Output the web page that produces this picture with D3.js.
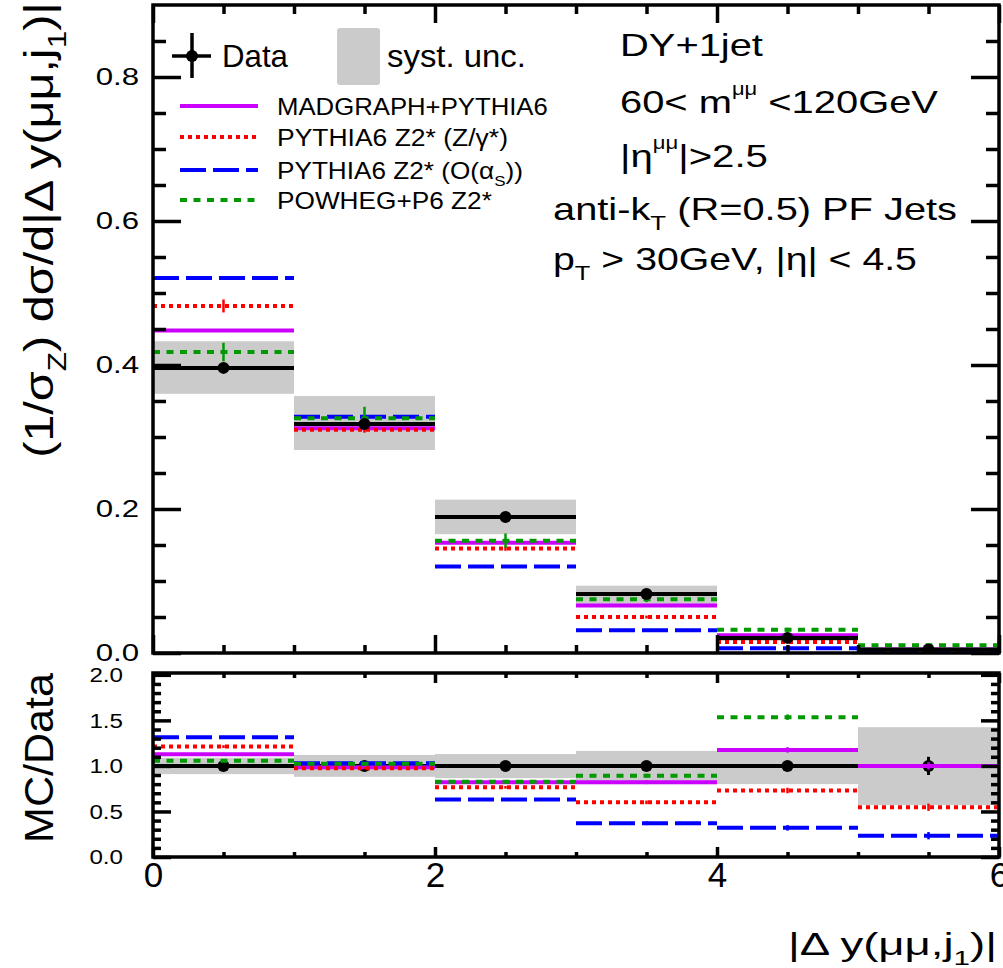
<!DOCTYPE html>
<html><head><meta charset="utf-8">
<script src="https://cdn.jsdelivr.net/npm/d3@7"></script>
<style>body{margin:0;background:#fff} svg{display:block}</style>
</head><body><svg id="c" width="1003" height="968"></svg>
<script>
// ---------------- data ----------------
const binEdges = [0, 1, 2, 3, 4, 5, 6];
const dataVals = [0.396, 0.318, 0.189, 0.082, 0.021, 0.0050];
const dataStat = [0.003, 0.003, 0.002, 0.0015, 0.001, 0.0005];
const systLo   = [0.360, 0.282, 0.165, 0.066, 0.0168, 0.0029];
const systHi   = [0.433, 0.357, 0.213, 0.0935, 0.0245, 0.0071];
const madgraph = [0.448, 0.312, 0.153, 0.066, 0.0247, 0.0050];
const pythiaZ  = [0.482, 0.310, 0.145, 0.050, 0.0153, 0.0027];
const pythiaAs = [0.521, 0.328, 0.120, 0.0315, 0.0067, 0.0012];
const powheg   = [0.418, 0.326, 0.156, 0.0746, 0.0322, 0.0108];
const madgraphErr = [0.002, 0.002, 0.001, 0.001, 0.0005, 0.0003];
const pythiaZErr  = [0.009, 0.004, 0.003, 0.002, 0.001, 0.0005];
const pythiaAsErr = [0.002, 0.002, 0.001, 0.001, 0.0005, 0.0003];
const powhegErr   = [0.013, 0.016, 0.010, 0.004, 0.003, 0.001];

const ratioData     = [1, 1, 1, 1, 1, 1];
const ratioDataErr  = [0.01, 0.01, 0.02, 0.03, 0.05, 0.10];
const ratioSystLo   = [0.91, 0.88, 0.865, 0.80, 0.80, 0.57];
const ratioSystHi   = [1.09, 1.12, 1.13, 1.165, 1.165, 1.425];
const ratioMadgraph = [1.129, 0.985, 0.82, 0.82, 1.176, 1.0];
const ratioPythiaZ  = [1.212, 0.975, 0.765, 0.60, 0.73, 0.546];
const ratioPythiaAs = [1.315, 1.03, 0.63, 0.37, 0.32, 0.234];
const ratioPowheg   = [1.058, 1.025, 0.825, 0.893, 1.535, 2.2];
const ratioMCErr    = [0.03, 0.02, 0.03, 0.04, 0.06, 0.08];

const mainTickLabels  = [0, 0.2, 0.4, 0.6, 0.8];
const ratioTickLabels = [0, 0.5, 1.0, 1.5, 2.0];
const xTickLabels     = [0, 2, 4, 6];

const legendNames = ["MADGRAPH+PYTHIA6", "PYTHIA6 Z2* (Z/γ*)", "PYTHIA6 Z2* (O(α_S))", "POWHEG+P6 Z2*"];

// ---------------- styles ----------------
const FONT = '"Liberation Sans", Arial, Helvetica, sans-serif';
const GREY = "#cbcbcb";
const series = [
  {name: legendNames[0], vals: madgraph, err: madgraphErr, r: ratioMadgraph, color: "#cc00ff", dash: null},
  {name: legendNames[1], vals: pythiaZ,  err: pythiaZErr,  r: ratioPythiaZ,  color: "#ff0000", dash: "4,4"},
  {name: legendNames[2], vals: pythiaAs, err: pythiaAsErr, r: ratioPythiaAs, color: "#0000ff", dash: "26,7"},
  {name: legendNames[3], vals: powheg,   err: powhegErr,   r: ratioPowheg,   color: "#009900", dash: "7,6.5"}
];

const svg = d3.select("#c");
const x  = d3.scaleLinear().domain([0, 6]).range([153, 999]);
const yM = d3.scaleLinear().domain([0, 0.9]).range([653, 5]);
const yR = d3.scaleLinear().domain([0, 2.02]).range([857, 673]);

const defs = svg.append("defs");
defs.append("clipPath").attr("id", "clipM").append("rect")
  .attr("x", x(0)).attr("y", yM(0.9)).attr("width", x(6) - x(0)).attr("height", yM(0) - yM(0.9));
defs.append("clipPath").attr("id", "clipR").append("rect")
  .attr("x", x(0)).attr("y", yR(2.02)).attr("width", x(6) - x(0)).attr("height", yR(0) - yR(2.02));

const bins = d3.range(6).map(i => ({i, x0: x(binEdges[i]), x1: x(binEdges[i + 1]), xc: x((binEdges[i] + binEdges[i + 1]) / 2)}));

function drawPanel(g, y, band, lo, hi, dvals, derr, valKey, errKey, dataOnTop) {
  // syst band
  g.selectAll(".band" + band).data(bins).enter().append("rect")
    .attr("x", b => b.x0).attr("width", b => b.x1 - b.x0)
    .attr("y", b => y(hi[b.i])).attr("height", b => y(lo[b.i]) - y(hi[b.i]))
    .attr("fill", GREY);
  const drawData = () => {
    g.selectAll(".dl" + band).data(bins).enter().append("line")
      .attr("x1", b => b.x0).attr("x2", b => b.x1)
      .attr("y1", b => y(dvals[b.i])).attr("y2", b => y(dvals[b.i]))
      .attr("stroke", "#000").attr("stroke-width", 4);
    g.selectAll(".de" + band).data(bins).enter().append("line")
      .attr("x1", b => b.xc).attr("x2", b => b.xc)
      .attr("y1", b => y(dvals[b.i] - derr[b.i])).attr("y2", b => y(dvals[b.i] + derr[b.i]))
      .attr("stroke", "#000").attr("stroke-width", 3);
    g.selectAll(".dm" + band).data(bins).enter().append("circle")
      .attr("cx", b => b.xc).attr("cy", b => y(dvals[b.i])).attr("r", 6).attr("fill", "#000");
  };
  if (!dataOnTop) drawData();
  series.forEach(s => {
    const v = s[valKey];
    g.selectAll(null).data(bins).enter().append("line")
      .attr("x1", b => b.x0).attr("x2", b => b.x1)
      .attr("y1", b => y(v[b.i])).attr("y2", b => y(v[b.i]))
      .attr("stroke", s.color).attr("stroke-width", 4)
      .attr("stroke-dasharray", s.dash);
    const e = errKey === "err" ? s.err : ratioMCErr.map((r, k) => r * 0.5);
    g.selectAll(null).data(bins).enter().append("line")
      .attr("x1", b => b.xc).attr("x2", b => b.xc)
      .attr("y1", b => y(v[b.i] - e[b.i])).attr("y2", b => y(v[b.i] + e[b.i]))
      .attr("stroke", s.color).attr("stroke-width", 2.5);
  });
  if (dataOnTop) drawData();
}

const gM = svg.append("g").attr("clip-path", "url(#clipM)");
drawPanel(gM, yM, "M", systLo, systHi, dataVals, dataStat, "vals", "err", true);
const gR = svg.append("g").attr("clip-path", "url(#clipR)");
drawPanel(gR, yR, "R", ratioSystLo, ratioSystHi, ratioData, ratioDataErr, "r", "rerr", false);

// ---------------- axes / ticks ----------------
function axisTicks(axisGen, tx, ty, values, size, withLabels) {
  const a = axisGen.tickValues(values).tickSize(size).tickPadding(withLabels ? withLabels.pad : 3);
  if (withLabels) a.tickFormat(withLabels.fmt); else a.tickFormat("");
  const g = svg.append("g").attr("transform", `translate(${tx},${ty})`).call(a);
  g.select(".domain").remove();
  g.selectAll("line").attr("stroke", "#000").attr("stroke-width", 3.5);
  g.attr("font-family", FONT);
  return g;
}
const near = (v, step) => Math.abs(v / step - Math.round(v / step)) < 1e-6;
const mainMinor = d3.range(1, 18).map(k => k * 0.05).filter(v => !near(v, 0.2));
const ratioMinor = d3.range(1, 20).map(k => k * 0.1).filter(v => !near(v, 0.5));
const xMinor = d3.range(1, 12).map(k => k * 0.5).filter(v => !near(v, 2));

// main panel
const gMl = axisTicks(d3.axisLeft(yM), x(0), 0, mainTickLabels, -28, {pad: 14, fmt: d3.format(".1f")});
gMl.selectAll("text").attr("font-size", 24).attr("fill", "#000")
  .attr("x", 0).attr("transform", "translate(-14,0) scale(1.3,1)");
axisTicks(d3.axisLeft(yM), x(0), 0, mainMinor, -13);
axisTicks(d3.axisRight(yM), x(6), 0, mainTickLabels, -28);
axisTicks(d3.axisRight(yM), x(6), 0, mainMinor, -13);
axisTicks(d3.axisTop(x), 0, yM(0.9), xTickLabels, -18);
axisTicks(d3.axisTop(x), 0, yM(0.9), xMinor, -9);
axisTicks(d3.axisBottom(x), 0, yM(0), xTickLabels, -18);
axisTicks(d3.axisBottom(x), 0, yM(0), xMinor, -8);

// ratio panel
const gRl = axisTicks(d3.axisLeft(yR), x(0), 0, ratioTickLabels, -18, {pad: 30, fmt: d3.format(".1f")});
gRl.selectAll("text").attr("font-size", 21).attr("fill", "#000")
  .attr("x", 0).attr("transform", "translate(-30,0) scale(1.15,1)");
axisTicks(d3.axisLeft(yR), x(0), 0, ratioMinor, -8);
axisTicks(d3.axisRight(yR), x(6), 0, ratioTickLabels, -18);
axisTicks(d3.axisRight(yR), x(6), 0, ratioMinor, -8);
axisTicks(d3.axisTop(x), 0, yR(2.02), xTickLabels, -10);
axisTicks(d3.axisTop(x), 0, yR(2.02), xMinor, -5);
const gRb = axisTicks(d3.axisBottom(x), 0, yR(0), xTickLabels, -10, {pad: 5, fmt: d3.format("d")});
gRb.selectAll("text").attr("font-size", 35).attr("fill", "#000");
axisTicks(d3.axisBottom(x), 0, yR(0), xMinor, -5);

// frames
svg.append("rect").attr("x", x(0)).attr("y", yM(0.9)).attr("width", x(6) - x(0)).attr("height", yM(0) - yM(0.9))
  .attr("fill", "none").attr("stroke", "#000").attr("stroke-width", 3.5);
svg.append("rect").attr("x", x(0)).attr("y", yR(2.02)).attr("width", x(6) - x(0)).attr("height", yR(0) - yR(2.02))
  .attr("fill", "none").attr("stroke", "#000").attr("stroke-width", 3.5);

// ---------------- text helper ----------------
function richText(px, py, parts, fs, opts = {}) {
  const g = svg.append("g").attr("transform", `translate(${px},${py})` + (opts.rotate ? ` rotate(${opts.rotate})` : ""));
  const t = g.append("text").attr("font-family", FONT).attr("font-size", fs).attr("fill", "#000")
    .attr("text-anchor", opts.anchor || "start");
  let shift = 0;
  parts.forEach(p => {
    const [str, kind] = Array.isArray(p) ? p : [p, "n"];
    const target = kind === "sub" ? fs * 0.32 : kind === "sup" ? -fs * 0.55 : 0;
    const ts = t.append("tspan").text(str).attr("dy", target - shift);
    if (kind === "sub") ts.attr("font-size", fs * 0.65);
    if (kind === "sup") ts.attr("font-size", fs * 0.55);
    shift = target;
  });
  if (opts.width) {
    const w = t.node().getComputedTextLength();
    if (w > 0) t.attr("transform", `scale(${opts.width / w},1)`);
  } else if (opts.sx) {
    t.attr("transform", `scale(${opts.sx},1)`);
  }
  return t;
}
function parseLabel(s) {
  // "_X" -> subscript X within parentheses label e.g. α_S
  const m = s.split(/(_[A-Za-z0-9])/);
  return m.filter(z => z.length).map(z => z[0] === "_" ? [z.slice(1), "sub"] : [z, "n"]);
}

// axis titles
richText(53, 2, ["(1/σ", ["Z", "sub"], ") dσ/d|Δ y(μμ,j", ["1", "sub"], ")|"], 40, {rotate: -90, anchor: "end", width: 456});
richText(53, 758, ["MC/Data"], 41, {rotate: -90, anchor: "middle", width: 170});
richText(997, 955, ["|Δ y(μμ,j", ["1", "sub"], ")|"], 32, {anchor: "end", width: 209});

// ---------------- legend ----------------
const lg = svg.append("g");
lg.append("line").attr("x1", 192).attr("x2", 192).attr("y1", 33).attr("y2", 78).attr("stroke", "#000").attr("stroke-width", 3.5);
lg.append("line").attr("x1", 172).attr("x2", 211).attr("y1", 56).attr("y2", 56).attr("stroke", "#000").attr("stroke-width", 3.5);
lg.append("circle").attr("cx", 192).attr("cy", 56).attr("r", 6).attr("fill", "#000");
richText(222, 67, ["Data"], 32, {width: 66});
lg.append("rect").attr("x", 337).attr("y", 28).attr("width", 43).attr("height", 57).attr("rx", 3).attr("fill", GREY);
richText(387, 67, ["syst. unc."], 32, {width: 139});
const legY = [106, 137, 170, 200];
const legW = [271, 231, 246, 215];
series.forEach((s, k) => {
  lg.append("line").attr("x1", 180).attr("x2", 258).attr("y1", legY[k]).attr("y2", legY[k])
    .attr("stroke", s.color).attr("stroke-width", 4).attr("stroke-dasharray", s.dash);
  richText(277, legY[k] + 9, parseLabel(s.name), 23, {width: legW[k]});
});

// ---------------- info text ----------------
richText(620, 56, ["DY+1jet"], 32, {width: 143});
richText(620, 113, ["60< m", ["μμ", "sup"], " <120GeV"], 32, {width: 318});
richText(620, 167, ["|η", ["μμ", "sup"], "|>2.5"], 32, {width: 148});
richText(553, 220, ["anti-k", ["T", "sub"], " (R=0.5) PF Jets"], 32, {width: 404});
richText(553, 270, ["p", ["T", "sub"], " > 30GeV, |η| < 4.5"], 32, {width: 364});
</script>
</body></html>
